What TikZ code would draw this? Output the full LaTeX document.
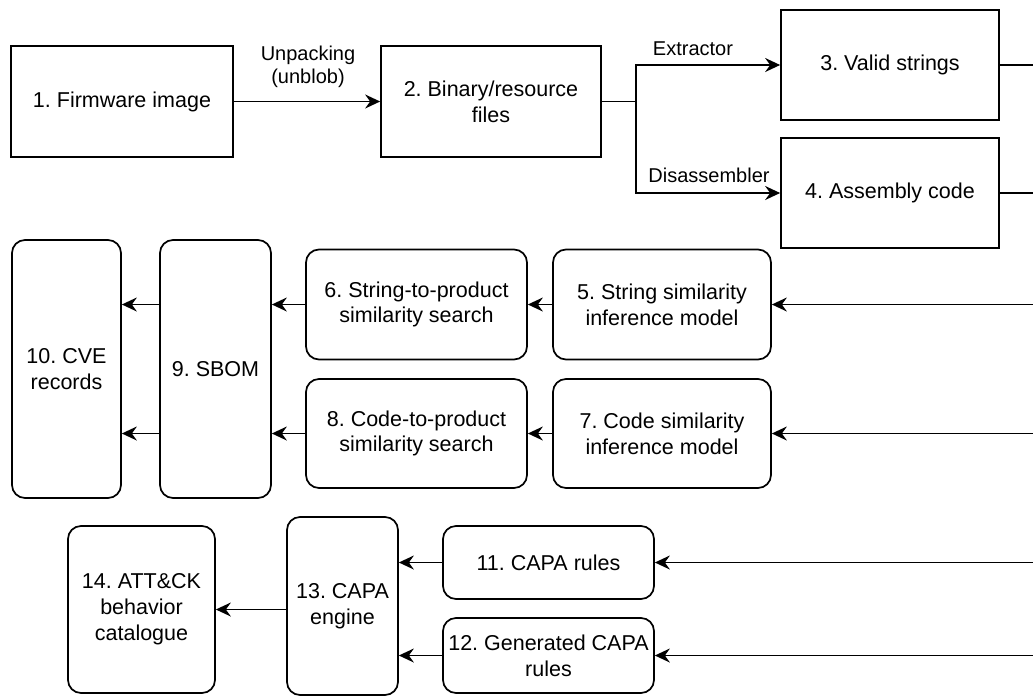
\documentclass[tikz,border=0pt]{standalone}
\usepackage{fontspec}
\setmainfont{Liberation Sans}
\usetikzlibrary{arrows.meta,calc}
\frenchspacing
\begin{document}
\begin{tikzpicture}[x=1pt,y=-1pt,
  box/.style={draw,line width=1.7pt,align=center,inner sep=0pt,
    font=\fontsize{21.5}{25.8}\selectfont\frenchspacing},
  rbox/.style={box,rounded corners=13pt},
  lab/.style={align=center,inner sep=0pt,font=\fontsize{20}{23}\selectfont},
  conn/.style={line width=1.7pt},
  arr/.style={conn,-{Stealth[length=15pt,width=14pt,inset=5pt]}}]
\fill[white] (0,0) rectangle (1033,697);
\useasboundingbox (0,0) rectangle (1033,697);
% row 1
\node[box,minimum width=222pt,minimum height=111pt] (b1) at (122,101.5) {1. Firmware image};
\node[box,minimum width=220pt,minimum height=111pt] (b2) at (491,101.5) {2. Binary/resource\\files};
\node[box,minimum width=218pt,minimum height=110pt] (b3) at (890,65) {3. Valid strings};
\node[box,minimum width=218pt,minimum height=110pt] (b4) at (890,193) {4. Assembly code};
% row 2
\node[rbox,minimum width=109pt,minimum height=258pt] (b10) at (66.5,369) {10. CVE\\records};
\node[rbox,minimum width=111pt,minimum height=258pt] (b9) at (215.5,369) {9. SBOM};
\node[rbox,minimum width=221pt,minimum height=110pt] (b6) at (416.5,304.5) {6. String-to-product\\similarity search};
\node[rbox,minimum width=221pt,minimum height=109pt] (b8) at (416.5,433.5) {8. Code-to-product\\similarity search};
\node[rbox,minimum width=218pt,minimum height=110pt] (b5) at (662,304.5) {5. String similarity\\inference model};
\node[rbox,minimum width=218pt,minimum height=109pt] (b7) at (662,433.5) {7. Code similarity\\inference model};
% row 3
\node[rbox,minimum width=147pt,minimum height=167pt] (b14) at (141.5,609.5) {14. ATT\&CK\\behavior\\catalogue};
\node[rbox,minimum width=111pt,minimum height=178pt] (b13) at (342.5,606) {13. CAPA\\engine};
\node[rbox,minimum width=211pt,minimum height=73pt] (b11) at (548.5,562.5) {11. CAPA rules};
\node[rbox,minimum width=211pt,minimum height=75pt] (b12) at (548.5,655.5) {12. Generated CAPA\\rules};
% coordinates
\coordinate (j) at (636,101.5);
\coordinate (edge) at (1033,0);
% labels
\node[lab] (l1) at (308,66.5) {Unpacking\\(unblob)};
\node[lab] (l2) at (693,49) {Extractor};
\node[lab] (l3) at (709,175) {Disassembler};
% connectors row 1
\draw[arr] (b1.east) -- (b2.west);
\draw[conn] (b2.east) -- (j);
\draw[arr] (j) |- (b3.west);
\draw[arr] (j) |- (b4.west);
\draw[conn] (b3.east) -- (b3.east -| edge);
\draw[conn] (b4.east) -- (b4.east -| edge);
% row 2
\draw[arr] (b5.east -| edge) -- (b5.east);
\draw[arr] (b7.east -| edge) -- (b7.east);
\draw[arr] (b5.west) -- (b6.east);
\draw[arr] (b7.west) -- (b8.east);
\draw[arr] (b6.west) -- (b6.west -| b9.east);
\draw[arr] (b8.west) -- (b8.west -| b9.east);
\draw[arr] (b9.west |- b6.west) -- (b10.east |- b6.west);
\draw[arr] (b9.west |- b8.west) -- (b10.east |- b8.west);
% row 3
\draw[arr] (b11.east -| edge) -- (b11.east);
\draw[arr] (b12.east -| edge) -- (b12.east);
\draw[arr] (b11.west) -- (b11.west -| b13.east);
\draw[arr] (b12.west) -- (b12.west -| b13.east);
\draw[arr] (b13.west |- b14.east) -- (b14.east);
\end{tikzpicture}
\end{document}
